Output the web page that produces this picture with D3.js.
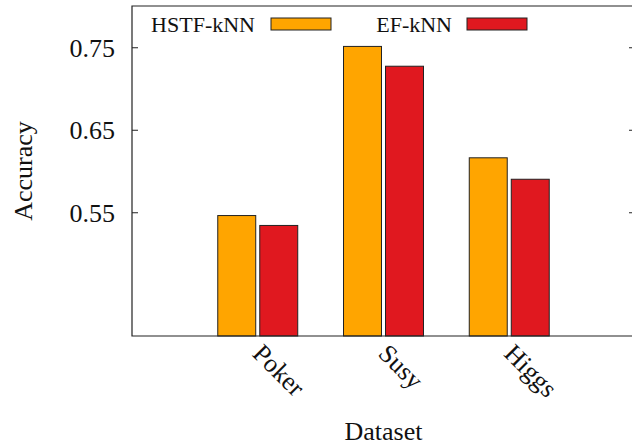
<!DOCTYPE html>
<html><head><meta charset="utf-8">
<script src="https://cdn.jsdelivr.net/npm/d3@7"></script>
<style>body{margin:0;background:#fff}svg{display:block}</style>
</head><body>
<svg id="c" width="632" height="447"></svg>
<script>
const categories = ["Poker", "Susy", "Higgs"];
const seriesNames = ["HSTF-kNN", "EF-kNN"];
const hstf = [0.546, 0.751, 0.616];
const ef = [0.534, 0.727, 0.590];
const yTicks = [0.55, 0.65, 0.75];
const colors = ["#FFA500", "#E0181F"];

const svg = d3.select("#c");
const L = 132, R = 635, T = 6, B = 336;
const x = d3.scaleLinear().domain([-1, categories.length]).range([L, R]);
const y = d3.scaleLinear().domain([0.4, 0.8]).range([B, T]);
const font = "'Liberation Serif', 'Times New Roman', serif";

const series = [hstf, ef];
const bw = 0.302, off = 0.167;
series.forEach((vals, s) => {
  svg.append("g").selectAll("rect").data(vals).enter().append("rect")
    .attr("x", (d, i) => x(i + (s === 0 ? -off : off) - bw / 2))
    .attr("width", x(bw) - x(0))
    .attr("y", d => y(d))
    .attr("height", d => y(0.4) - y(d))
    .attr("fill", colors[s])
    .attr("stroke", "#222").attr("stroke-width", 1);
});

// border
svg.append("path").attr("d", `M${R},${T}H${L}V${B}H${R}`)
  .attr("fill", "none").attr("stroke", "#222").attr("stroke-width", 1.2);

// y axis
const yAxis = d3.axisLeft(y).tickValues(yTicks).tickFormat(d3.format(".2f")).tickSizeInner(-6).tickSizeOuter(0).tickPadding(17);
const gy = svg.append("g").attr("transform", `translate(${L},0)`).call(yAxis);
gy.select(".domain").remove();
gy.selectAll("line").attr("stroke", "#222");
gy.selectAll("text").attr("font-family", font).attr("font-size", 26).attr("fill", "#111").attr("dy", "0.35em");
const yAxisR = d3.axisRight(y).tickValues(yTicks).tickFormat("").tickSizeInner(-6).tickSizeOuter(0);
const gyr = svg.append("g").attr("transform", `translate(${R},0)`).call(yAxisR);
gyr.select(".domain").remove();
gyr.selectAll("line").attr("stroke", "#222");

// x labels
const xAxis = d3.axisBottom(x).tickValues(d3.range(categories.length)).tickFormat(i => categories[i]).tickSize(0);
const gx = svg.append("g").attr("transform", `translate(0,${B})`).call(xAxis);
gx.select(".domain").remove();
gx.selectAll("text")
  .attr("font-family", font).attr("font-size", 26).attr("fill", "#111")
  .attr("text-anchor", "start").attr("y", 0).attr("dy", 0)
  .attr("transform", "translate(-7,19) rotate(45)");

// axis titles
svg.append("text").attr("x", (L + R) / 2).attr("y", 440).attr("text-anchor", "middle")
  .attr("font-family", font).attr("font-size", 26).attr("fill", "#111").text("Dataset");
svg.append("text").attr("transform", `translate(32,${(T + B) / 2}) rotate(-90)`).attr("text-anchor", "middle")
  .attr("font-family", font).attr("font-size", 26).attr("fill", "#111").text("Accuracy");

// legend
const legX = [255, 452], boxX = [271, 467];
seriesNames.forEach((n, s) => {
  svg.append("text").attr("x", legX[s]).attr("y", 31.5).attr("text-anchor", "end")
    .attr("font-family", font).attr("font-size", 22).attr("fill", "#111").text(n);
  svg.append("rect").attr("x", boxX[s]).attr("y", 18).attr("width", 60).attr("height", 12)
    .attr("fill", colors[s]).attr("stroke", "#222").attr("stroke-width", 1);
});
</script>
</body></html>
